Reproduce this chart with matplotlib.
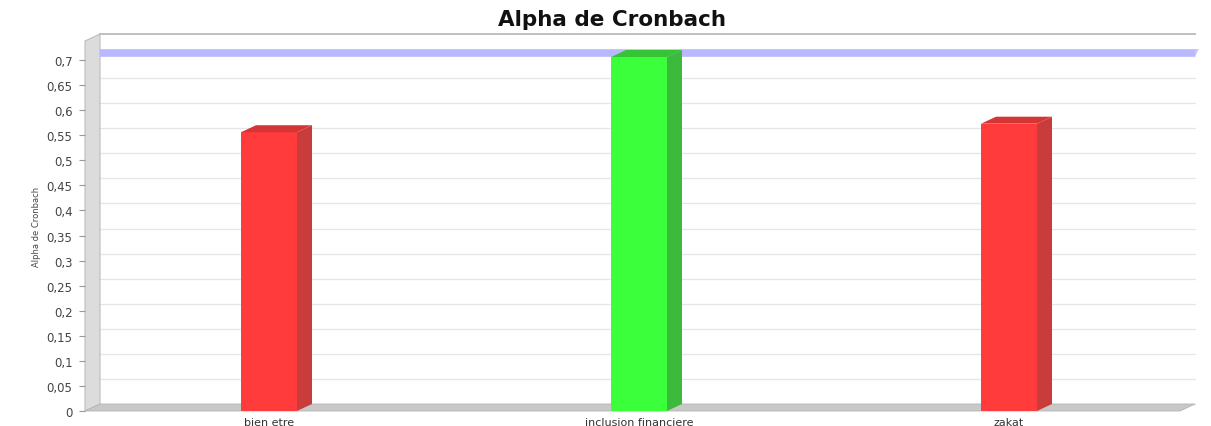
import matplotlib
matplotlib.use("Agg")
import matplotlib.pyplot as plt
from matplotlib.patches import Polygon
import numpy as np

# data
categories = ["bien etre", "inclusion financiere", "zakat"]
alpha_values = [0.556, 0.706, 0.573]
threshold = 0.7
bar_colors = ["#ff3b3b", "#3bff3b", "#ff3b3b"]
side_colors = ["#c83c3c", "#3cba3c", "#c83c3c"]
top_colors = ["#d43636", "#36c436", "#d43636"]
yticks = np.arange(0, 0.701, 0.05)
ytick_labels = [("%g" % round(v, 2)).replace(".", ",") for v in yticks]

W, H = 1211, 427
fig = plt.figure(figsize=(W / 100, H / 100), dpi=100)
fig.patch.set_facecolor("white")

# front plane of the 3d plot, in pixels
left_px, right_px, bottom_px, top_px = 85, 1180, 412, 42
ax = fig.add_axes([left_px / W, 1 - bottom_px / H,
                   (right_px - left_px) / W, (bottom_px - top_px) / H])

x = np.arange(len(categories))
px_per_x = 370.0
px_per_y = 501.4
x0 = (left_px - 269) / px_per_x
x1 = x0 + (right_px - left_px) / px_per_x
ymax = (bottom_px - top_px) / px_per_y
ax.set_xlim(x0, x1)
ax.set_ylim(0, ymax)

# 3d depth offsets (data units)
dx = 15 / px_per_x
dy = 7 / px_per_y

# back wall gridlines
for v in yticks:
    ax.plot([x0 + dx, x1 + dx], [v + dy, v + dy], color="#e6e6e6", lw=0.9,
            zorder=1, clip_on=False)
# top edge of the back wall
ax.plot([x0 + dx, x1 + dx], [ymax + dy, ymax + dy], color="#c0c0c0", lw=1.4,
        zorder=1, clip_on=False)

# threshold band on back wall
ax.plot([x0 + dx, x1 + dx], [threshold + dy, threshold + dy], color="#b8b8ff",
        lw=5.5, zorder=1.5, clip_on=False, solid_capstyle="butt")
ax.add_patch(Polygon([[x1 + dx, threshold + dy + 0.008], [x1 + dx + 0.01, threshold + dy + 0.008],
                      [x1 + dx, threshold + dy - 0.008]], closed=True,
                     facecolor="#c8c8ff", edgecolor="none", clip_on=False, zorder=1.5))

# left wall
ax.add_patch(Polygon([[x0, 0], [x0 + dx, dy], [x0 + dx, ymax + dy], [x0, ymax]],
                     closed=True, facecolor="#dcdcdc", edgecolor="#bdbdbd",
                     lw=0.8, clip_on=False, zorder=1))
# floor
ax.add_patch(Polygon([[x0, 0], [x1, 0], [x1 + dx, dy], [x0 + dx, dy]],
                     closed=True, facecolor="#c8c8c8", edgecolor="#b4b4b4",
                     lw=0.6, clip_on=False, zorder=1.2))

# bars
width = 56 / px_per_x
bars = ax.bar(x, alpha_values, width=width, color=bar_colors, zorder=3,
              edgecolor="none")
for b, sc, tc in zip(bars, side_colors, top_colors):
    bx = b.get_x()
    bw = b.get_width()
    h = b.get_height()
    ax.add_patch(Polygon([[bx + bw, 0], [bx + bw + dx, dy], [bx + bw + dx, h + dy], [bx + bw, h]],
                         closed=True, facecolor=sc, edgecolor="none", zorder=3))
    ax.add_patch(Polygon([[bx, h], [bx + bw, h], [bx + bw + dx, h + dy], [bx + dx, h + dy]],
                         closed=True, facecolor=tc, edgecolor="none", zorder=3))

for s in ax.spines.values():
    s.set_visible(False)
ax.set_facecolor("none")

ax.set_yticks(yticks)
ax.set_yticklabels(ytick_labels, fontsize=8.5, color="#444444")
ax.tick_params(axis="y", length=4, color="#999999", pad=5)
ax.set_xticks(x)
ax.set_xticklabels(categories, fontsize=8, color="#333333")
ax.tick_params(axis="x", length=0, pad=4)

ax.set_ylabel("Alpha de Cronbach", fontsize=6, color="#444444", labelpad=4)
fig.text(612 / W, 1 - 20 / H, "Alpha de Cronbach", ha="center", va="center",
         fontsize=15.5, fontweight="bold", color="#111111")

fig.savefig("out.png", dpi=100, facecolor="white")
